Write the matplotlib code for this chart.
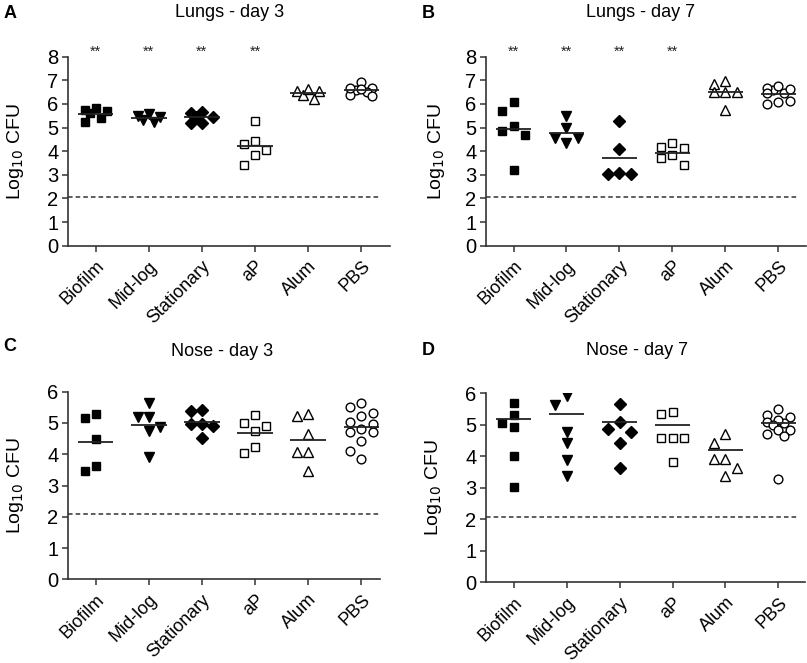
import numpy as np
import matplotlib.pyplot as plt

plt.rcParams['font.family'] = ['Liberation Sans', 'DejaVu Sans']

groups = ['Biofilm', 'Mid-log', 'Stationary', 'aP', 'Alum', 'PBS']
detection_limit = 2.08

# Lungs - day 3 (log10 CFU)
lung3_biofilm = [5.63, 5.74, 5.81, 5.70, 5.42, 5.25]
lung3_midlog = [5.46, 5.25, 5.48, 5.32, 5.57]
lung3_stat = [5.62, 5.45, 5.20, 5.45, 5.20, 5.66]
lung3_ap = [5.30, 4.30, 4.44, 4.05, 3.84, 3.42]
lung3_alum = [6.56, 6.20, 6.56, 6.38, 6.63]
lung3_pbs = [6.66, 6.52, 6.35, 6.92, 6.59, 6.38, 6.63, 6.66]

# Lungs - day 7
lung7_biofilm = [4.87, 5.70, 6.10, 5.07, 4.69, 3.20]
lung7_midlog = [5.49, 4.97, 4.55, 4.36, 4.55]
lung7_stat = [5.29, 4.09, 3.06, 3.02, 3.02]
lung7_ap = [4.16, 3.84, 4.15, 4.33, 3.70, 3.42]
lung7_alum = [6.85, 6.96, 6.49, 6.52, 6.49, 5.75]
lung7_pbs = [6.59, 6.69, 6.45, 6.77, 6.45, 6.62, 6.07, 6.12, 6.02]

# Nose - day 3
nose3_biofilm = [5.17, 5.28, 4.49, 3.47, 3.62]
nose3_midlog = [5.65, 5.20, 5.20, 4.88, 4.74, 3.92]
nose3_stat = [5.39, 5.42, 4.97, 4.91, 4.97, 4.51]
nose3_ap = [5.25, 4.91, 5.01, 4.74, 4.22, 4.03]
nose3_alum = [5.28, 5.22, 4.64, 4.06, 4.06, 3.47]
nose3_pbs = [5.65, 5.52, 5.33, 5.22, 5.04, 4.97, 4.81, 4.72, 4.72, 4.43, 4.11, 3.85]

# Nose - day 7
nose7_biofilm = [5.68, 5.31, 4.94, 5.05, 4.01, 3.03]
nose7_midlog = [5.63, 5.91, 4.78, 4.41, 3.88, 3.37]
nose7_stat = [5.66, 5.10, 4.78, 4.86, 4.41, 3.64]
nose7_ap = [5.33, 5.42, 4.57, 4.57, 4.57, 3.81]
nose7_alum = [4.70, 4.41, 3.91, 3.91, 3.62, 3.37]
nose7_pbs = [5.50, 5.30, 5.25, 5.05, 5.10, 5.15, 5.00, 4.85, 4.85, 4.70, 4.65, 3.28]

lung3 = [lung3_biofilm, lung3_midlog, lung3_stat, lung3_ap, lung3_alum, lung3_pbs]
lung7 = [lung7_biofilm, lung7_midlog, lung7_stat, lung7_ap, lung7_alum, lung7_pbs]
nose3 = [nose3_biofilm, nose3_midlog, nose3_stat, nose3_ap, nose3_alum, nose3_pbs]
nose7 = [nose7_biofilm, nose7_midlog, nose7_stat, nose7_ap, nose7_alum, nose7_pbs]

# marker, filled?, size
styles = [('s', True, 6.2), ('v', True, 7.5), ('D', True, 6.0),
          ('s', False, 5.8), ('^', False, 6.8), ('o', False, 6.3)]

AX_COL = '#333333'


def swarm_offsets(ax, x0, vals, min_px=11.0):
    # simple column-scatter: try centre, then wide, then half-step offsets
    to_px = ax.transData.transform
    placed = []
    offs = np.zeros(len(vals))
    cands = [0, -0.21, 0.21, -0.105, 0.105]
    for i in np.argsort(vals)[::-1]:
        best, best_d = 0, -1
        for c in cands:
            p = to_px((x0 + c, vals[i]))
            d = min([np.hypot(*(p - q)) for q in placed], default=1e9)
            if d >= min_px:
                best = c
                break
            if d > best_d:
                best, best_d = c, d
        offs[i] = best
        placed.append(to_px((x0 + best, vals[i])))
    return offs


def draw_panel(rect, data, ymax, xmax, title, letter, letter_xy, title_xy,
               ylab_x, center='mean', stars=False):
    ax = fig.add_axes(rect)
    ax.set_xlim(-0.52, xmax)
    ax.set_ylim(0, ymax)
    for i, vals in enumerate(data):
        vals = np.array(vals)
        m, filled, ms = styles[i]
        offs = swarm_offsets(ax, i, vals)
        ax.plot(i + offs, vals, linestyle='none', marker=m, markersize=ms,
                markerfacecolor='black' if filled else 'white',
                markeredgecolor='black', markeredgewidth=1.0, zorder=3)
        if center == 'mean':
            c = vals.mean()
        else:
            c = np.log10(np.mean(10 ** vals))
        ax.hlines(c, i - 0.335, i + 0.335, color='#222222', linewidth=1.3, zorder=4)
        if stars and i < 4:
            ax.text(i, ymax + 0.2, '**', ha='center', va='center', fontsize=10.5,
                    color='#222222', clip_on=False)
    ax.hlines(detection_limit, -0.52, 5.35, color='#333333', linewidth=1.1,
              linestyles=(0, (3, 2)), zorder=1)
    ax.set_xticks(range(len(groups)))
    ax.set_xticklabels(groups, rotation=45, ha='right', rotation_mode='anchor',
                       fontsize=13)
    ax.set_yticks(range(0, ymax + 1))
    ax.tick_params(axis='y', labelsize=14.5, length=4.5, width=1.1, color=AX_COL, pad=2.5)
    ax.tick_params(axis='x', length=4.5, width=1.1, color=AX_COL, pad=4)
    for s in ['top', 'right']:
        ax.spines[s].set_visible(False)
    for s in ['left', 'bottom']:
        ax.spines[s].set_color(AX_COL)
        ax.spines[s].set_linewidth(1.2)
    fig.text(title_xy[0], title_xy[1], title, ha='center', va='center', fontsize=13)
    fig.text(letter_xy[0], letter_xy[1], letter, ha='left', va='center',
             fontsize=13, fontweight='bold')
    fig.text(ylab_x, rect[1] + rect[3] / 2, r'Log$_{10}$ CFU', rotation=90,
             ha='center', va='center', fontsize=14)
    return ax


fig = plt.figure(figsize=(8.07, 6.63), dpi=100)

draw_panel([0.0843, 0.6294, 0.399, 0.285], lung3, 8, 5.54, 'Lungs - day 3', 'A',
           (0.004, 0.98), (0.284, 0.981), 0.0195, stars=True)
draw_panel([0.6022, 0.6294, 0.3965, 0.285], lung7, 8, 5.52, 'Lungs - day 7', 'B',
           (0.522, 0.979), (0.794, 0.981), 0.541, stars=True)
draw_panel([0.0843, 0.1262, 0.3866, 0.283], nose3, 6, 5.35, 'Nose - day 3', 'C',
           (0.004, 0.478), (0.275, 0.4695), 0.0195)
draw_panel([0.6022, 0.1217, 0.3953, 0.285], nose7, 6, 5.50, 'Nose - day 7', 'D',
           (0.522, 0.472), (0.789, 0.471), 0.537, center='logmean')

fig.savefig('out.png', dpi=100)
